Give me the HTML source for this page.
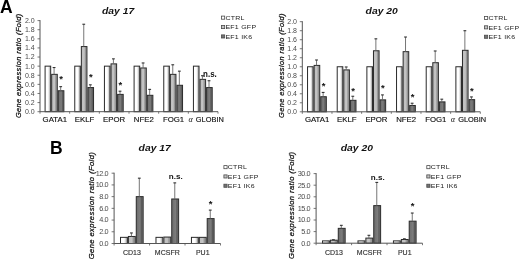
<!DOCTYPE html><html><head><meta charset="utf-8"><style>html,body{margin:0;padding:0;background:#fff;overflow:hidden}svg{display:block;filter:blur(0.35px)}</style></head><body>
<svg width="520" height="259" viewBox="0 0 520 259" font-family='"Liberation Sans", sans-serif'>
<defs><linearGradient id="g0" x1="0" x2="1" y1="0" y2="0"><stop offset="0" stop-color="#fff"/><stop offset="0.5" stop-color="#fff"/><stop offset="0.68" stop-color="#e4e4e4"/><stop offset="0.85" stop-color="#b4b4b4"/><stop offset="1" stop-color="#aaa"/></linearGradient><linearGradient id="g1" x1="0" x2="1" y1="0" y2="0"><stop offset="0" stop-color="#bdbdbd"/><stop offset="0.5" stop-color="#c4c4c4"/><stop offset="0.75" stop-color="#939393"/><stop offset="1" stop-color="#a6a6a6"/></linearGradient><linearGradient id="g2" x1="0" x2="1" y1="0" y2="0"><stop offset="0" stop-color="#6c6c6c"/><stop offset="0.55" stop-color="#7c7c7c"/><stop offset="0.78" stop-color="#585858"/><stop offset="1" stop-color="#858585"/></linearGradient></defs>
<rect width="520" height="259" fill="#fff"/>
<rect x="45.09" y="66.15" width="5.59" height="45.55" fill="url(#g0)" stroke="#2a2a2a" stroke-width="1"/>
<rect x="51.69" y="74.35" width="5.59" height="37.35" fill="url(#g1)" stroke="#2a2a2a" stroke-width="1"/>
<line x1="54.08" y1="74.35" x2="54.08" y2="67.52" stroke="#666" stroke-width="0.9"/>
<line x1="52.68" y1="67.52" x2="55.48" y2="67.52" stroke="#333" stroke-width="1.1"/>
<rect x="58.28" y="90.75" width="5.59" height="20.95" fill="url(#g2)" stroke="#2a2a2a" stroke-width="1"/>
<line x1="60.68" y1="90.75" x2="60.68" y2="86.65" stroke="#666" stroke-width="0.9"/>
<line x1="59.28" y1="86.65" x2="62.08" y2="86.65" stroke="#333" stroke-width="1.1"/>
<text x="61.08" y="81.95" font-size="9.5" font-weight="bold" text-anchor="middle" fill="#111">*</text>
<rect x="74.76" y="66.15" width="5.59" height="45.55" fill="url(#g0)" stroke="#2a2a2a" stroke-width="1"/>
<rect x="81.35" y="46.56" width="5.59" height="65.14" fill="url(#g1)" stroke="#2a2a2a" stroke-width="1"/>
<line x1="83.75" y1="46.56" x2="83.75" y2="24.24" stroke="#666" stroke-width="0.9"/>
<line x1="82.35" y1="24.24" x2="85.15" y2="24.24" stroke="#333" stroke-width="1.1"/>
<rect x="87.95" y="87.56" width="5.59" height="24.14" fill="url(#g2)" stroke="#2a2a2a" stroke-width="1"/>
<line x1="90.34" y1="87.56" x2="90.34" y2="84.83" stroke="#666" stroke-width="0.9"/>
<line x1="88.94" y1="84.83" x2="91.74" y2="84.83" stroke="#333" stroke-width="1.1"/>
<text x="90.74" y="80.25" font-size="9.5" font-weight="bold" text-anchor="middle" fill="#111">*</text>
<rect x="104.43" y="66.15" width="5.59" height="45.55" fill="url(#g0)" stroke="#2a2a2a" stroke-width="1"/>
<rect x="111.02" y="63.87" width="5.59" height="47.83" fill="url(#g1)" stroke="#2a2a2a" stroke-width="1"/>
<line x1="113.42" y1="63.87" x2="113.42" y2="58.86" stroke="#666" stroke-width="0.9"/>
<line x1="112.02" y1="58.86" x2="114.82" y2="58.86" stroke="#333" stroke-width="1.1"/>
<rect x="117.61" y="94.39" width="5.59" height="17.31" fill="url(#g2)" stroke="#2a2a2a" stroke-width="1"/>
<line x1="120.01" y1="94.39" x2="120.01" y2="91.20" stroke="#666" stroke-width="0.9"/>
<line x1="118.61" y1="91.20" x2="121.41" y2="91.20" stroke="#333" stroke-width="1.1"/>
<text x="120.41" y="87.85" font-size="9.5" font-weight="bold" text-anchor="middle" fill="#111">*</text>
<rect x="134.09" y="66.15" width="5.59" height="45.55" fill="url(#g0)" stroke="#2a2a2a" stroke-width="1"/>
<rect x="140.69" y="67.97" width="5.59" height="43.73" fill="url(#g1)" stroke="#2a2a2a" stroke-width="1"/>
<line x1="143.08" y1="67.97" x2="143.08" y2="62.96" stroke="#666" stroke-width="0.9"/>
<line x1="141.68" y1="62.96" x2="144.48" y2="62.96" stroke="#333" stroke-width="1.1"/>
<rect x="147.28" y="95.30" width="5.59" height="16.40" fill="url(#g2)" stroke="#2a2a2a" stroke-width="1"/>
<line x1="149.68" y1="95.30" x2="149.68" y2="89.38" stroke="#666" stroke-width="0.9"/>
<line x1="148.28" y1="89.38" x2="151.08" y2="89.38" stroke="#333" stroke-width="1.1"/>
<rect x="163.76" y="66.15" width="5.59" height="45.55" fill="url(#g0)" stroke="#2a2a2a" stroke-width="1"/>
<rect x="170.35" y="74.35" width="5.59" height="37.35" fill="url(#g1)" stroke="#2a2a2a" stroke-width="1"/>
<line x1="172.75" y1="74.35" x2="172.75" y2="64.78" stroke="#666" stroke-width="0.9"/>
<line x1="171.35" y1="64.78" x2="174.15" y2="64.78" stroke="#333" stroke-width="1.1"/>
<rect x="176.95" y="85.28" width="5.59" height="26.42" fill="url(#g2)" stroke="#2a2a2a" stroke-width="1"/>
<line x1="179.34" y1="85.28" x2="179.34" y2="71.16" stroke="#666" stroke-width="0.9"/>
<line x1="177.94" y1="71.16" x2="180.74" y2="71.16" stroke="#333" stroke-width="1.1"/>
<rect x="193.43" y="66.15" width="5.59" height="45.55" fill="url(#g0)" stroke="#2a2a2a" stroke-width="1"/>
<rect x="200.02" y="79.36" width="5.59" height="32.34" fill="url(#g1)" stroke="#2a2a2a" stroke-width="1"/>
<line x1="202.42" y1="79.36" x2="202.42" y2="75.72" stroke="#666" stroke-width="0.9"/>
<line x1="201.02" y1="75.72" x2="203.82" y2="75.72" stroke="#333" stroke-width="1.1"/>
<rect x="206.61" y="87.56" width="5.59" height="24.14" fill="url(#g2)" stroke="#2a2a2a" stroke-width="1"/>
<line x1="209.01" y1="87.56" x2="209.01" y2="80.73" stroke="#666" stroke-width="0.9"/>
<line x1="207.61" y1="80.73" x2="210.41" y2="80.73" stroke="#333" stroke-width="1.1"/>
<text transform="translate(209.91,76.70) scale(0.93,1)" font-size="8.6" font-weight="bold" text-anchor="middle" fill="#111">n.s.</text>
<line x1="40" y1="20.10" x2="40" y2="111.70" stroke="#555" stroke-width="1"/>
<line x1="40" y1="111.70" x2="218" y2="111.70" stroke="#555" stroke-width="1"/>
<line x1="37.5" y1="111.70" x2="40" y2="111.70" stroke="#555" stroke-width="0.8"/>
<text x="34.7" y="114.10" font-size="7" text-anchor="end" letter-spacing="0" fill="#4a4a4a">0.0</text>
<line x1="37.5" y1="102.59" x2="40" y2="102.59" stroke="#555" stroke-width="0.8"/>
<text x="34.7" y="104.99" font-size="7" text-anchor="end" letter-spacing="0" fill="#4a4a4a">0.2</text>
<line x1="37.5" y1="93.48" x2="40" y2="93.48" stroke="#555" stroke-width="0.8"/>
<text x="34.7" y="95.88" font-size="7" text-anchor="end" letter-spacing="0" fill="#4a4a4a">0.4</text>
<line x1="37.5" y1="84.37" x2="40" y2="84.37" stroke="#555" stroke-width="0.8"/>
<text x="34.7" y="86.77" font-size="7" text-anchor="end" letter-spacing="0" fill="#4a4a4a">0.6</text>
<line x1="37.5" y1="75.26" x2="40" y2="75.26" stroke="#555" stroke-width="0.8"/>
<text x="34.7" y="77.66" font-size="7" text-anchor="end" letter-spacing="0" fill="#4a4a4a">0.8</text>
<line x1="37.5" y1="66.15" x2="40" y2="66.15" stroke="#555" stroke-width="0.8"/>
<text x="34.7" y="68.55" font-size="7" text-anchor="end" letter-spacing="0" fill="#4a4a4a">1.0</text>
<line x1="37.5" y1="57.04" x2="40" y2="57.04" stroke="#555" stroke-width="0.8"/>
<text x="34.7" y="59.44" font-size="7" text-anchor="end" letter-spacing="0" fill="#4a4a4a">1.2</text>
<line x1="37.5" y1="47.93" x2="40" y2="47.93" stroke="#555" stroke-width="0.8"/>
<text x="34.7" y="50.33" font-size="7" text-anchor="end" letter-spacing="0" fill="#4a4a4a">1.4</text>
<line x1="37.5" y1="38.82" x2="40" y2="38.82" stroke="#555" stroke-width="0.8"/>
<text x="34.7" y="41.22" font-size="7" text-anchor="end" letter-spacing="0" fill="#4a4a4a">1.6</text>
<line x1="37.5" y1="29.71" x2="40" y2="29.71" stroke="#555" stroke-width="0.8"/>
<text x="34.7" y="32.11" font-size="7" text-anchor="end" letter-spacing="0" fill="#4a4a4a">1.8</text>
<line x1="37.5" y1="20.60" x2="40" y2="20.60" stroke="#555" stroke-width="0.8"/>
<text x="34.7" y="23.00" font-size="7" text-anchor="end" letter-spacing="0" fill="#4a4a4a">2.0</text>
<line x1="40.00" y1="111.70" x2="40.00" y2="113.70" stroke="#555" stroke-width="0.8"/>
<line x1="69.67" y1="111.70" x2="69.67" y2="113.70" stroke="#555" stroke-width="0.8"/>
<line x1="99.33" y1="111.70" x2="99.33" y2="113.70" stroke="#555" stroke-width="0.8"/>
<line x1="129.00" y1="111.70" x2="129.00" y2="113.70" stroke="#555" stroke-width="0.8"/>
<line x1="158.67" y1="111.70" x2="158.67" y2="113.70" stroke="#555" stroke-width="0.8"/>
<line x1="188.33" y1="111.70" x2="188.33" y2="113.70" stroke="#555" stroke-width="0.8"/>
<line x1="218.00" y1="111.70" x2="218.00" y2="113.70" stroke="#555" stroke-width="0.8"/>
<text x="54.83" y="121.8" font-size="7.8" text-anchor="middle" fill="#111" stroke="#111" stroke-width="0.15">GATA1</text>
<text x="84.50" y="121.8" font-size="7.8" text-anchor="middle" fill="#111" stroke="#111" stroke-width="0.15">EKLF</text>
<text x="114.17" y="121.8" font-size="7.8" text-anchor="middle" fill="#111" stroke="#111" stroke-width="0.15">EPOR</text>
<text x="143.83" y="121.8" font-size="7.8" text-anchor="middle" fill="#111" stroke="#111" stroke-width="0.15">NFE2</text>
<text x="173.50" y="121.8" font-size="7.8" text-anchor="middle" fill="#111" stroke="#111" stroke-width="0.15">FOG1</text>
<text x="188.57" y="121.8" font-size="8.2" font-family="Liberation Serif" font-style="italic" fill="#111">&#945;</text>
<text x="195.87" y="121.8" font-size="7.4" fill="#111" stroke="#111" stroke-width="0.15">GLOBIN</text>
<text transform="translate(20.5,65.7) rotate(-90)" font-size="7.4" font-style="italic" text-anchor="middle" letter-spacing="0.4" fill="#111" stroke="#111" stroke-width="0.25">Gene expression ratio (Fold)</text>
<text transform="translate(102,14.3) scale(1.1,1)" font-size="9.4" font-weight="bold" font-style="italic" fill="#111">day 17</text>
<rect x="221.5" y="16.10" width="3.2" height="3.1" fill="#ffffff" stroke="#4a4a4a" stroke-width="0.8"/>
<text transform="translate(225.40,19.80) scale(1.13,1)" font-size="6.2" letter-spacing="0.22" fill="#222">CTRL</text>
<rect x="221.5" y="25.50" width="3.2" height="3.1" fill="#c4c4c4" stroke="#4a4a4a" stroke-width="0.8"/>
<text transform="translate(225.40,29.20) scale(1.13,1)" font-size="6.2" letter-spacing="0.22" fill="#222">EF1 GFP</text>
<rect x="221.5" y="34.90" width="3.2" height="3.1" fill="#747474" stroke="#4a4a4a" stroke-width="0.8"/>
<text transform="translate(225.40,38.60) scale(1.13,1)" font-size="6.2" letter-spacing="0.22" fill="#222">EF1 IK6</text>
<rect x="307.54" y="66.75" width="5.59" height="45.05" fill="url(#g0)" stroke="#2a2a2a" stroke-width="1"/>
<rect x="314.14" y="65.40" width="5.59" height="46.40" fill="url(#g1)" stroke="#2a2a2a" stroke-width="1"/>
<line x1="316.53" y1="65.40" x2="316.53" y2="59.99" stroke="#666" stroke-width="0.9"/>
<line x1="315.13" y1="59.99" x2="317.93" y2="59.99" stroke="#333" stroke-width="1.1"/>
<rect x="320.73" y="96.71" width="5.59" height="15.09" fill="url(#g2)" stroke="#2a2a2a" stroke-width="1"/>
<line x1="323.13" y1="96.71" x2="323.13" y2="92.43" stroke="#666" stroke-width="0.9"/>
<line x1="321.73" y1="92.43" x2="324.53" y2="92.43" stroke="#333" stroke-width="1.1"/>
<text x="323.53" y="89.05" font-size="9.5" font-weight="bold" text-anchor="middle" fill="#111">*</text>
<rect x="337.21" y="66.75" width="5.59" height="45.05" fill="url(#g0)" stroke="#2a2a2a" stroke-width="1"/>
<rect x="343.80" y="69.90" width="5.59" height="41.90" fill="url(#g1)" stroke="#2a2a2a" stroke-width="1"/>
<line x1="346.20" y1="69.90" x2="346.20" y2="66.98" stroke="#666" stroke-width="0.9"/>
<line x1="344.80" y1="66.98" x2="347.60" y2="66.98" stroke="#333" stroke-width="1.1"/>
<rect x="350.40" y="100.31" width="5.59" height="11.49" fill="url(#g2)" stroke="#2a2a2a" stroke-width="1"/>
<line x1="352.79" y1="100.31" x2="352.79" y2="96.26" stroke="#666" stroke-width="0.9"/>
<line x1="351.39" y1="96.26" x2="354.19" y2="96.26" stroke="#333" stroke-width="1.1"/>
<text x="353.19" y="93.55" font-size="9.5" font-weight="bold" text-anchor="middle" fill="#111">*</text>
<rect x="366.88" y="66.75" width="5.59" height="45.05" fill="url(#g0)" stroke="#2a2a2a" stroke-width="1"/>
<rect x="373.47" y="50.76" width="5.59" height="61.04" fill="url(#g1)" stroke="#2a2a2a" stroke-width="1"/>
<line x1="375.87" y1="50.76" x2="375.87" y2="38.82" stroke="#666" stroke-width="0.9"/>
<line x1="374.47" y1="38.82" x2="377.27" y2="38.82" stroke="#333" stroke-width="1.1"/>
<rect x="380.06" y="99.86" width="5.59" height="11.94" fill="url(#g2)" stroke="#2a2a2a" stroke-width="1"/>
<line x1="382.46" y1="99.86" x2="382.46" y2="94.91" stroke="#666" stroke-width="0.9"/>
<line x1="381.06" y1="94.91" x2="383.86" y2="94.91" stroke="#333" stroke-width="1.1"/>
<text x="382.86" y="90.85" font-size="9.5" font-weight="bold" text-anchor="middle" fill="#111">*</text>
<rect x="396.54" y="66.75" width="5.59" height="45.05" fill="url(#g0)" stroke="#2a2a2a" stroke-width="1"/>
<rect x="403.14" y="51.66" width="5.59" height="60.14" fill="url(#g1)" stroke="#2a2a2a" stroke-width="1"/>
<line x1="405.53" y1="51.66" x2="405.53" y2="37.02" stroke="#666" stroke-width="0.9"/>
<line x1="404.13" y1="37.02" x2="406.93" y2="37.02" stroke="#333" stroke-width="1.1"/>
<rect x="409.73" y="105.49" width="5.59" height="6.31" fill="url(#g2)" stroke="#2a2a2a" stroke-width="1"/>
<line x1="412.13" y1="105.49" x2="412.13" y2="103.24" stroke="#666" stroke-width="0.9"/>
<line x1="410.73" y1="103.24" x2="413.53" y2="103.24" stroke="#333" stroke-width="1.1"/>
<text x="412.53" y="99.55" font-size="9.5" font-weight="bold" text-anchor="middle" fill="#111">*</text>
<rect x="426.21" y="66.75" width="5.59" height="45.05" fill="url(#g0)" stroke="#2a2a2a" stroke-width="1"/>
<rect x="432.80" y="62.70" width="5.59" height="49.10" fill="url(#g1)" stroke="#2a2a2a" stroke-width="1"/>
<line x1="435.20" y1="62.70" x2="435.20" y2="50.98" stroke="#666" stroke-width="0.9"/>
<line x1="433.80" y1="50.98" x2="436.60" y2="50.98" stroke="#333" stroke-width="1.1"/>
<rect x="439.40" y="101.89" width="5.59" height="9.91" fill="url(#g2)" stroke="#2a2a2a" stroke-width="1"/>
<line x1="441.79" y1="101.89" x2="441.79" y2="99.19" stroke="#666" stroke-width="0.9"/>
<line x1="440.39" y1="99.19" x2="443.19" y2="99.19" stroke="#333" stroke-width="1.1"/>
<rect x="455.88" y="66.75" width="5.59" height="45.05" fill="url(#g0)" stroke="#2a2a2a" stroke-width="1"/>
<rect x="462.47" y="50.31" width="5.59" height="61.49" fill="url(#g1)" stroke="#2a2a2a" stroke-width="1"/>
<line x1="464.87" y1="50.31" x2="464.87" y2="30.71" stroke="#666" stroke-width="0.9"/>
<line x1="463.47" y1="30.71" x2="466.27" y2="30.71" stroke="#333" stroke-width="1.1"/>
<rect x="469.06" y="99.64" width="5.59" height="12.16" fill="url(#g2)" stroke="#2a2a2a" stroke-width="1"/>
<line x1="471.46" y1="99.64" x2="471.46" y2="96.93" stroke="#666" stroke-width="0.9"/>
<line x1="470.06" y1="96.93" x2="472.86" y2="96.93" stroke="#333" stroke-width="1.1"/>
<text x="471.86" y="94.15" font-size="9.5" font-weight="bold" text-anchor="middle" fill="#111">*</text>
<line x1="302.3" y1="21.20" x2="302.3" y2="111.80" stroke="#555" stroke-width="1"/>
<line x1="302.3" y1="111.80" x2="480.3" y2="111.80" stroke="#555" stroke-width="1"/>
<line x1="299.8" y1="111.80" x2="302.3" y2="111.80" stroke="#555" stroke-width="0.8"/>
<text x="297.0" y="114.20" font-size="7" text-anchor="end" letter-spacing="0" fill="#4a4a4a">0.0</text>
<line x1="299.8" y1="102.79" x2="302.3" y2="102.79" stroke="#555" stroke-width="0.8"/>
<text x="297.0" y="105.19" font-size="7" text-anchor="end" letter-spacing="0" fill="#4a4a4a">0.2</text>
<line x1="299.8" y1="93.78" x2="302.3" y2="93.78" stroke="#555" stroke-width="0.8"/>
<text x="297.0" y="96.18" font-size="7" text-anchor="end" letter-spacing="0" fill="#4a4a4a">0.4</text>
<line x1="299.8" y1="84.77" x2="302.3" y2="84.77" stroke="#555" stroke-width="0.8"/>
<text x="297.0" y="87.17" font-size="7" text-anchor="end" letter-spacing="0" fill="#4a4a4a">0.6</text>
<line x1="299.8" y1="75.76" x2="302.3" y2="75.76" stroke="#555" stroke-width="0.8"/>
<text x="297.0" y="78.16" font-size="7" text-anchor="end" letter-spacing="0" fill="#4a4a4a">0.8</text>
<line x1="299.8" y1="66.75" x2="302.3" y2="66.75" stroke="#555" stroke-width="0.8"/>
<text x="297.0" y="69.15" font-size="7" text-anchor="end" letter-spacing="0" fill="#4a4a4a">1.0</text>
<line x1="299.8" y1="57.74" x2="302.3" y2="57.74" stroke="#555" stroke-width="0.8"/>
<text x="297.0" y="60.14" font-size="7" text-anchor="end" letter-spacing="0" fill="#4a4a4a">1.2</text>
<line x1="299.8" y1="48.73" x2="302.3" y2="48.73" stroke="#555" stroke-width="0.8"/>
<text x="297.0" y="51.13" font-size="7" text-anchor="end" letter-spacing="0" fill="#4a4a4a">1.4</text>
<line x1="299.8" y1="39.72" x2="302.3" y2="39.72" stroke="#555" stroke-width="0.8"/>
<text x="297.0" y="42.12" font-size="7" text-anchor="end" letter-spacing="0" fill="#4a4a4a">1.6</text>
<line x1="299.8" y1="30.71" x2="302.3" y2="30.71" stroke="#555" stroke-width="0.8"/>
<text x="297.0" y="33.11" font-size="7" text-anchor="end" letter-spacing="0" fill="#4a4a4a">1.8</text>
<line x1="299.8" y1="21.70" x2="302.3" y2="21.70" stroke="#555" stroke-width="0.8"/>
<text x="297.0" y="24.10" font-size="7" text-anchor="end" letter-spacing="0" fill="#4a4a4a">2.0</text>
<line x1="302.30" y1="111.80" x2="302.30" y2="113.80" stroke="#555" stroke-width="0.8"/>
<line x1="331.97" y1="111.80" x2="331.97" y2="113.80" stroke="#555" stroke-width="0.8"/>
<line x1="361.63" y1="111.80" x2="361.63" y2="113.80" stroke="#555" stroke-width="0.8"/>
<line x1="391.30" y1="111.80" x2="391.30" y2="113.80" stroke="#555" stroke-width="0.8"/>
<line x1="420.97" y1="111.80" x2="420.97" y2="113.80" stroke="#555" stroke-width="0.8"/>
<line x1="450.63" y1="111.80" x2="450.63" y2="113.80" stroke="#555" stroke-width="0.8"/>
<line x1="480.30" y1="111.80" x2="480.30" y2="113.80" stroke="#555" stroke-width="0.8"/>
<text x="317.13" y="121.8" font-size="7.8" text-anchor="middle" fill="#111" stroke="#111" stroke-width="0.15">GATA1</text>
<text x="346.80" y="121.8" font-size="7.8" text-anchor="middle" fill="#111" stroke="#111" stroke-width="0.15">EKLF</text>
<text x="376.47" y="121.8" font-size="7.8" text-anchor="middle" fill="#111" stroke="#111" stroke-width="0.15">EPOR</text>
<text x="406.13" y="121.8" font-size="7.8" text-anchor="middle" fill="#111" stroke="#111" stroke-width="0.15">NFE2</text>
<text x="435.80" y="121.8" font-size="7.8" text-anchor="middle" fill="#111" stroke="#111" stroke-width="0.15">FOG1</text>
<text x="450.87" y="121.8" font-size="8.2" font-family="Liberation Serif" font-style="italic" fill="#111">&#945;</text>
<text x="458.17" y="121.8" font-size="7.4" fill="#111" stroke="#111" stroke-width="0.15">GLOBIN</text>
<text transform="translate(283.5,65.5) rotate(-90)" font-size="7.4" font-style="italic" text-anchor="middle" letter-spacing="0.4" fill="#111" stroke="#111" stroke-width="0.25">Gene expression ratio (Fold)</text>
<text transform="translate(365.6,14.1) scale(1.1,1)" font-size="9.4" font-weight="bold" font-style="italic" fill="#111">day 20</text>
<rect x="484.5" y="16.40" width="3.2" height="3.1" fill="#ffffff" stroke="#4a4a4a" stroke-width="0.8"/>
<text transform="translate(488.40,20.10) scale(1.13,1)" font-size="6.2" letter-spacing="0.22" fill="#222">CTRL</text>
<rect x="484.5" y="25.80" width="3.2" height="3.1" fill="#c4c4c4" stroke="#4a4a4a" stroke-width="0.8"/>
<text transform="translate(488.40,29.50) scale(1.13,1)" font-size="6.2" letter-spacing="0.22" fill="#222">EF1 GFP</text>
<rect x="484.5" y="35.20" width="3.2" height="3.1" fill="#747474" stroke="#4a4a4a" stroke-width="0.8"/>
<text transform="translate(488.40,38.90) scale(1.13,1)" font-size="6.2" letter-spacing="0.22" fill="#222">EF1 IK6</text>
<rect x="120.51" y="237.35" width="6.88" height="6.15" fill="url(#g0)" stroke="#2a2a2a" stroke-width="1"/>
<rect x="128.39" y="236.47" width="6.88" height="7.03" fill="url(#g1)" stroke="#2a2a2a" stroke-width="1"/>
<line x1="131.43" y1="236.47" x2="131.43" y2="232.95" stroke="#666" stroke-width="0.9"/>
<line x1="130.03" y1="232.95" x2="132.83" y2="232.95" stroke="#333" stroke-width="1.1"/>
<rect x="136.27" y="196.63" width="6.88" height="46.87" fill="url(#g2)" stroke="#2a2a2a" stroke-width="1"/>
<line x1="139.31" y1="196.63" x2="139.31" y2="178.18" stroke="#666" stroke-width="0.9"/>
<line x1="137.91" y1="178.18" x2="140.71" y2="178.18" stroke="#333" stroke-width="1.1"/>
<rect x="155.98" y="237.35" width="6.88" height="6.15" fill="url(#g0)" stroke="#2a2a2a" stroke-width="1"/>
<rect x="163.86" y="237.06" width="6.88" height="6.44" fill="url(#g1)" stroke="#2a2a2a" stroke-width="1"/>
<rect x="171.74" y="198.98" width="6.88" height="44.52" fill="url(#g2)" stroke="#2a2a2a" stroke-width="1"/>
<line x1="174.78" y1="198.98" x2="174.78" y2="182.87" stroke="#666" stroke-width="0.9"/>
<line x1="173.38" y1="182.87" x2="176.18" y2="182.87" stroke="#333" stroke-width="1.1"/>
<text transform="translate(175.68,178.80) scale(1.04,1)" font-size="7.8" font-weight="bold" text-anchor="middle" fill="#111">n.s.</text>
<rect x="191.44" y="237.35" width="6.88" height="6.15" fill="url(#g0)" stroke="#2a2a2a" stroke-width="1"/>
<rect x="199.33" y="237.35" width="6.88" height="6.15" fill="url(#g1)" stroke="#2a2a2a" stroke-width="1"/>
<rect x="207.21" y="218.60" width="6.88" height="24.90" fill="url(#g2)" stroke="#2a2a2a" stroke-width="1"/>
<line x1="210.25" y1="218.60" x2="210.25" y2="210.11" stroke="#666" stroke-width="0.9"/>
<line x1="208.85" y1="210.11" x2="211.65" y2="210.11" stroke="#333" stroke-width="1.1"/>
<text x="210.65" y="206.85" font-size="9.5" font-weight="bold" text-anchor="middle" fill="#111">*</text>
<line x1="114.1" y1="172.70" x2="114.1" y2="243.50" stroke="#555" stroke-width="1"/>
<line x1="114.1" y1="243.50" x2="220.5" y2="243.50" stroke="#555" stroke-width="1"/>
<line x1="111.6" y1="243.50" x2="114.1" y2="243.50" stroke="#555" stroke-width="0.8"/>
<text x="108.1" y="245.90" font-size="7.3" text-anchor="end" letter-spacing="-0.45" fill="#4a4a4a">0.0</text>
<line x1="111.6" y1="231.78" x2="114.1" y2="231.78" stroke="#555" stroke-width="0.8"/>
<text x="108.1" y="234.18" font-size="7.3" text-anchor="end" letter-spacing="-0.45" fill="#4a4a4a">2.0</text>
<line x1="111.6" y1="220.07" x2="114.1" y2="220.07" stroke="#555" stroke-width="0.8"/>
<text x="108.1" y="222.47" font-size="7.3" text-anchor="end" letter-spacing="-0.45" fill="#4a4a4a">4.0</text>
<line x1="111.6" y1="208.35" x2="114.1" y2="208.35" stroke="#555" stroke-width="0.8"/>
<text x="108.1" y="210.75" font-size="7.3" text-anchor="end" letter-spacing="-0.45" fill="#4a4a4a">6.0</text>
<line x1="111.6" y1="196.63" x2="114.1" y2="196.63" stroke="#555" stroke-width="0.8"/>
<text x="108.1" y="199.03" font-size="7.3" text-anchor="end" letter-spacing="-0.45" fill="#4a4a4a">8.0</text>
<line x1="111.6" y1="184.92" x2="114.1" y2="184.92" stroke="#555" stroke-width="0.8"/>
<text x="108.1" y="187.32" font-size="7.3" text-anchor="end" letter-spacing="-0.45" fill="#4a4a4a">10.0</text>
<line x1="111.6" y1="173.20" x2="114.1" y2="173.20" stroke="#555" stroke-width="0.8"/>
<text x="108.1" y="175.60" font-size="7.3" text-anchor="end" letter-spacing="-0.45" fill="#4a4a4a">12.0</text>
<line x1="114.10" y1="243.50" x2="114.10" y2="245.50" stroke="#555" stroke-width="0.8"/>
<line x1="149.57" y1="243.50" x2="149.57" y2="245.50" stroke="#555" stroke-width="0.8"/>
<line x1="185.03" y1="243.50" x2="185.03" y2="245.50" stroke="#555" stroke-width="0.8"/>
<line x1="220.50" y1="243.50" x2="220.50" y2="245.50" stroke="#555" stroke-width="0.8"/>
<text x="131.83" y="255" font-size="7" text-anchor="middle" fill="#333" stroke="#333" stroke-width="0.15">CD13</text>
<text x="167.30" y="255" font-size="7" text-anchor="middle" fill="#333" stroke="#333" stroke-width="0.15">MCSFR</text>
<text x="202.77" y="255" font-size="7" text-anchor="middle" fill="#333" stroke="#333" stroke-width="0.15">PU1</text>
<text transform="translate(93.6,205.5) rotate(-90)" font-size="7.6" font-style="italic" text-anchor="middle" letter-spacing="0.4" fill="#111" stroke="#111" stroke-width="0.25">Gene expression ratio (Fold)</text>
<text transform="translate(138.6,151.1) scale(1.1,1)" font-size="9.4" font-weight="bold" font-style="italic" fill="#111">day 17</text>
<rect x="223.9" y="165.60" width="3.2" height="3.1" fill="#ffffff" stroke="#4a4a4a" stroke-width="0.8"/>
<text transform="translate(227.80,169.30) scale(1.13,1)" font-size="6.2" letter-spacing="0.22" fill="#222">CTRL</text>
<rect x="223.9" y="174.90" width="3.2" height="3.1" fill="#c4c4c4" stroke="#4a4a4a" stroke-width="0.8"/>
<text transform="translate(227.80,178.60) scale(1.13,1)" font-size="6.2" letter-spacing="0.22" fill="#222">EF1 GFP</text>
<rect x="223.9" y="184.20" width="3.2" height="3.1" fill="#747474" stroke="#4a4a4a" stroke-width="0.8"/>
<text transform="translate(227.80,187.90) scale(1.13,1)" font-size="6.2" letter-spacing="0.22" fill="#222">EF1 IK6</text>
<rect x="322.51" y="240.88" width="6.88" height="2.32" fill="url(#g0)" stroke="#2a2a2a" stroke-width="1"/>
<rect x="330.39" y="240.18" width="6.88" height="3.02" fill="url(#g1)" stroke="#2a2a2a" stroke-width="1"/>
<line x1="333.43" y1="240.18" x2="333.43" y2="239.72" stroke="#666" stroke-width="0.9"/>
<line x1="332.03" y1="239.72" x2="334.83" y2="239.72" stroke="#333" stroke-width="1.1"/>
<rect x="338.27" y="228.35" width="6.88" height="14.85" fill="url(#g2)" stroke="#2a2a2a" stroke-width="1"/>
<line x1="341.31" y1="228.35" x2="341.31" y2="225.34" stroke="#666" stroke-width="0.9"/>
<line x1="339.91" y1="225.34" x2="342.71" y2="225.34" stroke="#333" stroke-width="1.1"/>
<rect x="357.98" y="240.88" width="6.88" height="2.32" fill="url(#g0)" stroke="#2a2a2a" stroke-width="1"/>
<rect x="365.86" y="238.10" width="6.88" height="5.10" fill="url(#g1)" stroke="#2a2a2a" stroke-width="1"/>
<line x1="368.90" y1="238.10" x2="368.90" y2="235.31" stroke="#666" stroke-width="0.9"/>
<line x1="367.50" y1="235.31" x2="370.30" y2="235.31" stroke="#333" stroke-width="1.1"/>
<rect x="373.74" y="205.62" width="6.88" height="37.58" fill="url(#g2)" stroke="#2a2a2a" stroke-width="1"/>
<line x1="376.78" y1="205.62" x2="376.78" y2="182.42" stroke="#666" stroke-width="0.9"/>
<line x1="375.38" y1="182.42" x2="378.18" y2="182.42" stroke="#333" stroke-width="1.1"/>
<text transform="translate(377.68,180.20) scale(1.04,1)" font-size="7.8" font-weight="bold" text-anchor="middle" fill="#111">n.s.</text>
<rect x="393.44" y="240.88" width="6.88" height="2.32" fill="url(#g0)" stroke="#2a2a2a" stroke-width="1"/>
<rect x="401.33" y="239.49" width="6.88" height="3.71" fill="url(#g1)" stroke="#2a2a2a" stroke-width="1"/>
<line x1="404.37" y1="239.49" x2="404.37" y2="238.79" stroke="#666" stroke-width="0.9"/>
<line x1="402.97" y1="238.79" x2="405.77" y2="238.79" stroke="#333" stroke-width="1.1"/>
<rect x="409.21" y="221.16" width="6.88" height="22.04" fill="url(#g2)" stroke="#2a2a2a" stroke-width="1"/>
<line x1="412.25" y1="221.16" x2="412.25" y2="213.04" stroke="#666" stroke-width="0.9"/>
<line x1="410.85" y1="213.04" x2="413.65" y2="213.04" stroke="#333" stroke-width="1.1"/>
<text x="412.65" y="208.75" font-size="9.5" font-weight="bold" text-anchor="middle" fill="#111">*</text>
<line x1="316.1" y1="173.10" x2="316.1" y2="243.20" stroke="#555" stroke-width="1"/>
<line x1="316.1" y1="243.20" x2="422.5" y2="243.20" stroke="#555" stroke-width="1"/>
<line x1="313.6" y1="243.20" x2="316.1" y2="243.20" stroke="#555" stroke-width="0.8"/>
<text x="310.1" y="245.60" font-size="7.3" text-anchor="end" letter-spacing="-0.45" fill="#4a4a4a">0.0</text>
<line x1="313.6" y1="231.60" x2="316.1" y2="231.60" stroke="#555" stroke-width="0.8"/>
<text x="310.1" y="234.00" font-size="7.3" text-anchor="end" letter-spacing="-0.45" fill="#4a4a4a">5.0</text>
<line x1="313.6" y1="220.00" x2="316.1" y2="220.00" stroke="#555" stroke-width="0.8"/>
<text x="310.1" y="222.40" font-size="7.3" text-anchor="end" letter-spacing="-0.45" fill="#4a4a4a">10.0</text>
<line x1="313.6" y1="208.40" x2="316.1" y2="208.40" stroke="#555" stroke-width="0.8"/>
<text x="310.1" y="210.80" font-size="7.3" text-anchor="end" letter-spacing="-0.45" fill="#4a4a4a">15.0</text>
<line x1="313.6" y1="196.80" x2="316.1" y2="196.80" stroke="#555" stroke-width="0.8"/>
<text x="310.1" y="199.20" font-size="7.3" text-anchor="end" letter-spacing="-0.45" fill="#4a4a4a">20.0</text>
<line x1="313.6" y1="185.20" x2="316.1" y2="185.20" stroke="#555" stroke-width="0.8"/>
<text x="310.1" y="187.60" font-size="7.3" text-anchor="end" letter-spacing="-0.45" fill="#4a4a4a">25.0</text>
<line x1="313.6" y1="173.60" x2="316.1" y2="173.60" stroke="#555" stroke-width="0.8"/>
<text x="310.1" y="176.00" font-size="7.3" text-anchor="end" letter-spacing="-0.45" fill="#4a4a4a">30.0</text>
<line x1="316.10" y1="243.20" x2="316.10" y2="245.20" stroke="#555" stroke-width="0.8"/>
<line x1="351.57" y1="243.20" x2="351.57" y2="245.20" stroke="#555" stroke-width="0.8"/>
<line x1="387.03" y1="243.20" x2="387.03" y2="245.20" stroke="#555" stroke-width="0.8"/>
<line x1="422.50" y1="243.20" x2="422.50" y2="245.20" stroke="#555" stroke-width="0.8"/>
<text x="333.83" y="255" font-size="7" text-anchor="middle" fill="#333" stroke="#333" stroke-width="0.15">CD13</text>
<text x="369.30" y="255" font-size="7" text-anchor="middle" fill="#333" stroke="#333" stroke-width="0.15">MCSFR</text>
<text x="404.77" y="255" font-size="7" text-anchor="middle" fill="#333" stroke="#333" stroke-width="0.15">PU1</text>
<text transform="translate(293.6,205.2) rotate(-90)" font-size="7.6" font-style="italic" text-anchor="middle" letter-spacing="0.4" fill="#111" stroke="#111" stroke-width="0.25">Gene expression ratio (Fold)</text>
<text transform="translate(340.8,151.4) scale(1.1,1)" font-size="9.4" font-weight="bold" font-style="italic" fill="#111">day 20</text>
<rect x="426.79999999999995" y="165.60" width="3.2" height="3.1" fill="#ffffff" stroke="#4a4a4a" stroke-width="0.8"/>
<text transform="translate(430.70,169.30) scale(1.13,1)" font-size="6.2" letter-spacing="0.22" fill="#222">CTRL</text>
<rect x="426.79999999999995" y="174.90" width="3.2" height="3.1" fill="#c4c4c4" stroke="#4a4a4a" stroke-width="0.8"/>
<text transform="translate(430.70,178.60) scale(1.13,1)" font-size="6.2" letter-spacing="0.22" fill="#222">EF1 GFP</text>
<rect x="426.79999999999995" y="184.20" width="3.2" height="3.1" fill="#747474" stroke="#4a4a4a" stroke-width="0.8"/>
<text transform="translate(430.70,187.90) scale(1.13,1)" font-size="6.2" letter-spacing="0.22" fill="#222">EF1 IK6</text>
<text x="0" y="12.6" font-size="17.5" font-weight="bold" fill="#000">A</text>
<text x="50.1" y="153.9" font-size="17.5" font-weight="bold" fill="#000">B</text>
</svg></body></html>
